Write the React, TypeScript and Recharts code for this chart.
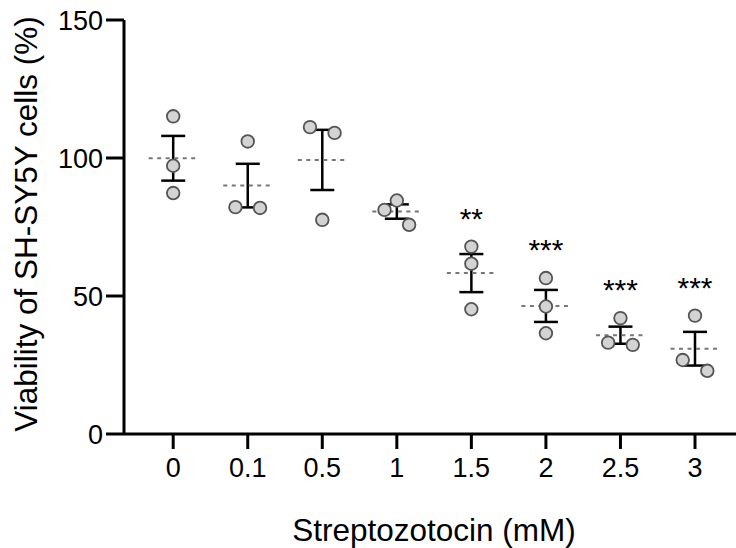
import { ComposedChart, ErrorBar, Label, Scatter, XAxis, YAxis } from 'recharts'

const doses = ['0', '0.1', '0.5', '1', '1.5', '2', '2.5', '3']
const rep1 = [115.1, 106.0, 111.2, 84.6, 67.9, 56.5, 42.0, 42.9]
const rep2 = [97.2, 82.2, 109.1, 81.2, 61.7, 46.2, 33.1, 26.8]
const rep3 = [87.3, 81.9, 77.6, 75.8, 45.2, 36.5, 32.3, 22.9]
const means = [99.9, 90.0, 99.3, 80.6, 58.3, 46.4, 35.8, 30.9]
const sems = [8.1, 7.9, 10.9, 2.6, 6.9, 5.8, 3.1, 6.1]
const stars = ['', '', '', '', '**', '***', '***', '***']
const yTicks = [0, 50, 100, 150]

const W = 736
const H = 548
const TOP = 20
const Y_AXIS_W = 124
const X_AXIS_H = 114
const PLOT_H = H - TOP - X_AXIS_H
const PX_PER_UNIT = PLOT_H / 150
const JIT = 12.3
const FONT = '"Liberation Sans", Arial, Helvetica, sans-serif'

// spread overlapping points sideways, like prism does
function spread(vals: number[]): number[] {
  const order = vals.map((_, i) => i).sort((a, b) => vals[b] - vals[a])
  const offs = vals.map(() => 0)
  let cluster = [order[0]]
  const flush = () => {
    if (cluster.length === 2) {
      offs[cluster[0]] = -JIT
      offs[cluster[1]] = JIT
    } else if (cluster.length === 3) {
      offs[cluster[1]] = -JIT
      offs[cluster[2]] = JIT
    }
  }
  for (let k = 1; k < order.length; k++) {
    const prev = order[k - 1]
    const cur = order[k]
    if ((vals[prev] - vals[cur]) * PX_PER_UNIT < 16) cluster.push(cur)
    else {
      flush()
      cluster = [cur]
    }
  }
  flush()
  return offs
}

const meanData = doses.map((_, i) => ({ x: i, y: means[i], sem: sems[i] }))
const pointData = doses.flatMap((_, i) => {
  const vals = [rep1[i], rep2[i], rep3[i]]
  const offs = spread(vals)
  return vals.map((v, k) => ({ x: i, y: v, dx: offs[k] }))
})
const starData = doses
  .map((_, i) => ({ x: i, y: Math.max(rep1[i], rep2[i], rep3[i]), label: stars[i] }))
  .filter((d) => d.label)

const MeanLine = (props: any) => {
  const { cx, cy } = props
  return (
    <line
      x1={cx - 24.5}
      x2={cx + 24.5}
      y1={cy}
      y2={cy}
      stroke="#777"
      strokeWidth={2}
      strokeDasharray="4 4.5"
    />
  )
}

const Dot = (props: any) => {
  const { cx, cy, payload } = props
  return (
    <circle cx={cx + (payload?.dx ?? 0)} cy={cy} r={6.3} fill="#d3d3d3" stroke="#555" strokeWidth={1.8} />
  )
}

const Stars = (props: any) => {
  const { cx, cy, payload } = props
  return (
    <text x={cx} y={cy - 33 + 15} textAnchor="middle" fontSize={30} fontFamily={FONT} fill="#000">
      {payload?.label}
    </text>
  )
}

export default function App() {
  return (
    <div style={{ position: 'absolute', left: 0, top: 0, width: W, height: H, background: '#fff' }}>
      <ComposedChart width={W} height={H} margin={{ top: TOP, right: 0, bottom: 0, left: 0 }}>
        <XAxis
          type="number"
          dataKey="x"
          domain={[-0.66, 7.55]}
          ticks={[0, 1, 2, 3, 4, 5, 6, 7]}
          tickFormatter={(v) => doses[v]}
          allowDataOverflow
          interval={0}
          height={X_AXIS_H}
          tickSize={15}
          tickMargin={9}
          axisLine={{ stroke: '#000', strokeWidth: 3 }}
          tickLine={{ stroke: '#000', strokeWidth: 3 }}
          tick={{ fontSize: 27, fill: '#000', fontFamily: FONT }}
        >
          <Label
            content={(p: any) => {
              const vb = p.viewBox
              return (
                <text
                  x={vb.x + vb.width / 2 + 4}
                  y={541}
                  textAnchor="middle"
                  fontSize={31.5}
                  fontFamily={FONT}
                  fill="#000"
                >
                  Streptozotocin (mM)
                </text>
              )
            }}
          />
        </XAxis>
        <YAxis
          type="number"
          dataKey="y"
          domain={[0, 150]}
          ticks={yTicks}
          allowDataOverflow
          width={Y_AXIS_W}
          tickSize={18}
          tickMargin={3}
          axisLine={{ stroke: '#000', strokeWidth: 3 }}
          tickLine={{ stroke: '#000', strokeWidth: 3 }}
          tick={{ fontSize: 27, fill: '#000', fontFamily: FONT }}
        >
          <Label
            content={() => (
              <text
                x={37}
                y={224}
                transform="rotate(-90, 37, 224)"
                textAnchor="middle"
                fontSize={31.5}
                fontFamily={FONT}
                fill="#000"
              >
                Viability of SH-SY5Y cells (%)
              </text>
            )}
          />
        </YAxis>
        <Scatter data={meanData} shape={MeanLine} isAnimationActive={false}>
          <ErrorBar dataKey="sem" direction="y" width={12} stroke="#000" strokeWidth={2.5} />
        </Scatter>
        <Scatter data={pointData} shape={Dot} isAnimationActive={false} />
        <Scatter data={starData} shape={Stars} isAnimationActive={false} />
      </ComposedChart>
    </div>
  )
}
